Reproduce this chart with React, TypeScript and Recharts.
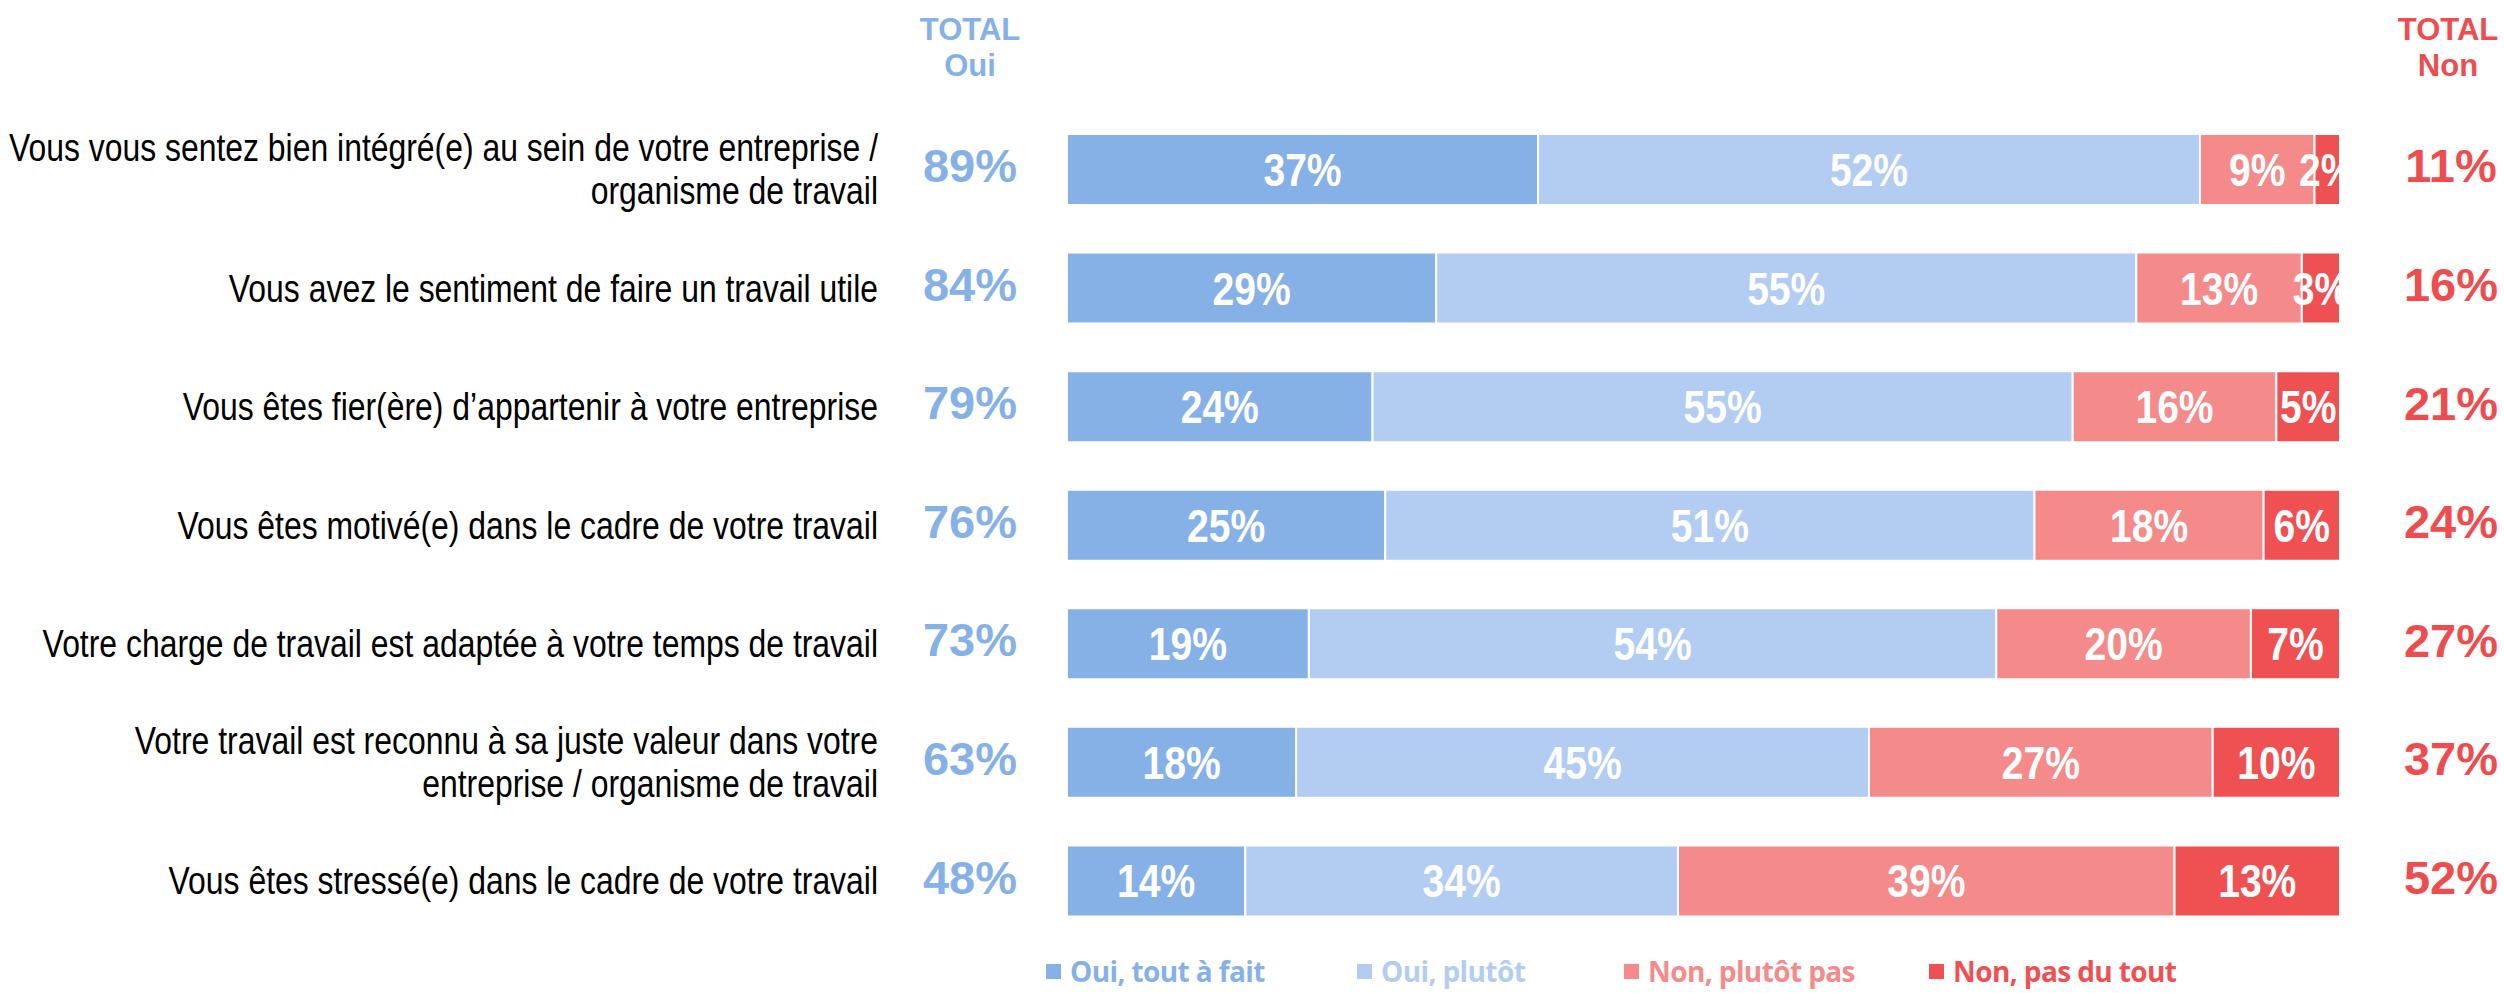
import { BarChart, Bar, XAxis, YAxis, LabelList } from 'recharts';

const categories = [
  'Vous vous sentez bien intégré(e) au sein de votre entreprise /\norganisme de travail',
  'Vous avez le sentiment de faire un travail utile',
  'Vous êtes fier(ère) d\u2019appartenir à votre entreprise',
  'Vous êtes motivé(e) dans le cadre de votre travail',
  'Votre charge de travail est adaptée à votre temps de travail',
  'Votre travail est reconnu à sa juste valeur dans votre\nentreprise / organisme de travail',
  'Vous êtes stressé(e) dans le cadre de votre travail',
];

const ouiToutAFait = [37, 29, 24, 25, 19, 18, 14];
const ouiPlutot = [52, 55, 55, 51, 54, 45, 34];
const nonPlutotPas = [9, 13, 16, 18, 20, 27, 39];
const nonPasDuTout = [2, 3, 5, 6, 7, 10, 13];
const totalOui = [89, 84, 79, 76, 73, 63, 48];
const totalNon = [11, 16, 21, 24, 27, 37, 52];

const seriesNames = ['Oui, tout à fait', 'Oui, plutôt', 'Non, plutôt pas', 'Non, pas du tout'];
const seriesColors = ['#86B1E7', '#B2CDF1', '#F48A8A', '#EF5052'];
const legendLeft = [1046, 1357, 1624, 1929];

const data = categories.map((name, i) => ({
  name,
  s0: ouiToutAFait[i],
  s1: ouiPlutot[i],
  s2: nonPlutotPas[i],
  s3: nonPasDuTout[i],
  oui: totalOui[i],
  non: totalNon[i],
}));

const arial = '"Liberation Sans", Arial, sans-serif';

// Arial Narrow is not around, so squeeze Liberation Sans horizontally
const CategoryTick = (props: any) => {
  const { x, y, payload } = props;
  const idx = categories.indexOf(payload.value);
  const lines = String(payload.value).split('\n');
  const lh = 43;
  const startY = -((lines.length - 1) * lh) / 2;
  return (
    <g>
      <g transform={`translate(${x - 189},${y}) scale(0.84,1)`}>
        <text x={0} textAnchor="end" fontFamily={arial} fontSize={38} fill="#000">
          {lines.map((l, i) => (
            <tspan key={i} x={0} y={startY + i * lh} dy="0.36em">
              {l}
            </tspan>
          ))}
        </text>
      </g>
      <text
        x={x - 97}
        y={y - 4}
        dy="0.36em"
        textAnchor="middle"
        fontFamily={arial}
        fontWeight="bold"
        fontSize={47}
        fill={seriesColors[0]}
      >
        {totalOui[idx]}%
      </text>
    </g>
  );
};

const SegLabel = (props: any) => {
  const { x, y, width, height, value } = props;
  return (
    <g transform={`translate(${x + width / 2},${y + height / 2}) scale(0.85,1)`}>
      <text x={0} y={0} dy="0.36em" textAnchor="middle" fontFamily={arial} fontWeight="bold" fontSize={46} fill="#fff">
        {value}%
      </text>
    </g>
  );
};

const NonLabel = (props: any) => {
  const { x, y, width, height, index } = props;
  return (
    <text
      x={x + width + 111}
      y={y + height / 2 - 4}
      dy="0.36em"
      textAnchor="middle"
      fontFamily={arial}
      fontWeight="bold"
      fontSize={47}
      fill="#EE4D50"
    >
      {totalNon[index]}%
    </text>
  );
};

const headerStyle = {
  position: 'absolute' as const,
  top: 12,
  width: 110,
  textAlign: 'center' as const,
  fontFamily: arial,
  fontWeight: 'bold',
  fontSize: 31,
  lineHeight: '36px',
};

export default function App() {
  const keys = ['s0', 's1', 's2', 's3'];
  return (
    <div style={{ position: 'relative', width: 2504, height: 993, background: '#fff' }}>
      <style>{'body{margin:0}'}</style>
      <div style={{ ...headerStyle, left: 915, color: seriesColors[0] }}>
        TOTAL
        <br />
        Oui
      </div>
      <div style={{ ...headerStyle, left: 2393, color: '#EE4D50' }}>
        TOTAL
        <br />
        Non
      </div>
      <BarChart
        width={2504}
        height={993}
        data={data}
        layout="vertical"
        margin={{ top: 110, right: 164, bottom: 53, left: 0 }}
        barSize={71}
      >
        <XAxis type="number" domain={[0, 100]} hide />
        <YAxis
          type="category"
          dataKey="name"
          width={1067}
          axisLine={false}
          tickLine={false}
          tickSize={0}
          tickMargin={0}
          tick={<CategoryTick />}
          interval={0}
        />
        {keys.map((k, i) => (
          <Bar
            key={k}
            dataKey={k}
            name={seriesNames[i]}
            stackId="a"
            fill={seriesColors[i]}
            stroke="#fff"
            strokeWidth={2}
            isAnimationActive={false}
          >
            <LabelList dataKey={k} content={<SegLabel />} />
            {i === 3 && <LabelList dataKey="non" content={<NonLabel />} />}
          </Bar>
        ))}
      </BarChart>
      {seriesNames.map((n, i) => (
        <div
          key={n}
          style={{
            position: 'absolute',
            left: legendLeft[i],
            top: 952,
            display: 'flex',
            alignItems: 'center',
            fontFamily: '"Open Sans", "Noto Sans", sans-serif',
            fontWeight: 700,
            fontSize: 28,
            letterSpacing: -0.6,
            color: seriesColors[i],
            whiteSpace: 'nowrap',
          }}
        >
          <span style={{ display: 'inline-block', width: 15, height: 15, background: seriesColors[i], marginRight: 9 }} />
          {n}
        </div>
      ))}
    </div>
  );
}
